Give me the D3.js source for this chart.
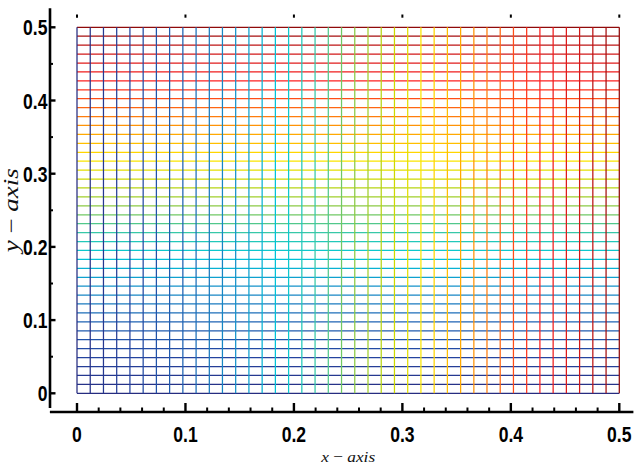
<!DOCTYPE html>
<html><head><meta charset="utf-8">
<script src="https://cdn.jsdelivr.net/npm/d3@7"></script>
<style>html,body{margin:0;padding:0;background:#fff;}svg{display:block;}</style>
</head><body>
<svg id="chart" width="638" height="465"></svg>
<script>
// grid node positions (42 lines each way)
const xNodes = [0, 0.0122, 0.0244, 0.0366, 0.0488, 0.0610, 0.0732, 0.0854, 0.0976, 0.1098,
  0.1220, 0.1341, 0.1463, 0.1585, 0.1707, 0.1829, 0.1951, 0.2073, 0.2195, 0.2317,
  0.2439, 0.2561, 0.2683, 0.2805, 0.2927, 0.3049, 0.3171, 0.3293, 0.3415, 0.3537,
  0.3659, 0.3780, 0.3902, 0.4024, 0.4146, 0.4268, 0.4390, 0.4512, 0.4634, 0.4756,
  0.4878, 0.5];
const yNodes = [0, 0.0122, 0.0244, 0.0366, 0.0488, 0.0610, 0.0732, 0.0854, 0.0976, 0.1098,
  0.1220, 0.1341, 0.1463, 0.1585, 0.1707, 0.1829, 0.1951, 0.2073, 0.2195, 0.2317,
  0.2439, 0.2561, 0.2683, 0.2805, 0.2927, 0.3049, 0.3171, 0.3293, 0.3415, 0.3537,
  0.3659, 0.3780, 0.3902, 0.4024, 0.4146, 0.4268, 0.4390, 0.4512, 0.4634, 0.4756,
  0.4878, 0.5];
const xMajorTicks = [0, 0.1, 0.2, 0.3, 0.4, 0.5];
const xTickLabels = ["0", "0.1", "0.2", "0.3", "0.4", "0.5"];
const xMinorTicks = [0.02,0.04,0.06,0.08,0.12,0.14,0.16,0.18,0.22,0.24,0.26,0.28,0.32,0.34,0.36,0.38,0.42,0.44,0.46,0.48];
const yMajorTicks = [0, 0.1, 0.2, 0.3, 0.4, 0.5];
const yTickLabels = ["0", "0.1", "0.2", "0.3", "0.4", "0.5"];
const yMinorTicks = [0.05, 0.15, 0.25, 0.35, 0.45];
const xTitle = ["x", " \u2212 ", "axis"];
const yTitle = ["y", " \u2212 ", "axis"];

const svg = d3.select("#chart");
const x = d3.scaleLinear().domain([0, 0.5]).range([77, 619.3]);
const y = d3.scaleLinear().domain([0, 0.5]).range([393.3, 27.3]);

const stops = [
  [0, "#262c80"], [0.1, "#2444a0"], [0.2, "#1e64b4"], [0.3, "#1496cc"],
  [0.375, "#00c8d8"], [0.45, "#40c8a0"], [0.5, "#80c850"], [0.58, "#c8d800"],
  [0.64, "#ffe600"], [0.7, "#ffb000"], [0.77, "#ff7010"], [0.85, "#ff2020"],
  [0.93, "#d01818"], [1, "#900a0a"]];
const cmap = d3.scaleLinear().domain(stops.map(d => d[0] * 0.5)).range(stops.map(d => d[1]))
  .interpolate(d3.interpolateRgb);

const grid = svg.append("g");
grid.selectAll("line.h").data(yNodes).join("line").attr("class", "h")
  .attr("x1", x(0)).attr("x2", x(0.5))
  .attr("y1", d => y(d)).attr("y2", d => y(d))
  .attr("stroke", d => cmap(d)).attr("stroke-width", 1.25);
grid.selectAll("line.v").data(xNodes).join("line").attr("class", "v")
  .attr("y1", y(0)).attr("y2", y(0.5))
  .attr("x1", d => x(d)).attr("x2", d => x(d))
  .attr("stroke", d => cmap(d)).attr("stroke-width", 1.25);

// axes (offset, MATLAB-like)
const axX = 50, axY = 412;
const ax = svg.append("g").attr("stroke", "#000").attr("stroke-width", 2.6);
ax.append("line").attr("x1", x(-0.025)).attr("x2", x(0.513)).attr("y1", axY).attr("y2", axY);
ax.append("line").attr("x1", axX).attr("x2", axX).attr("y1", y(-0.02)).attr("y2", y(0.526));
ax.selectAll("line.xM").data(xMajorTicks).join("line").attr("class", "xM")
  .attr("x1", d => x(d)).attr("x2", d => x(d)).attr("y1", axY).attr("y2", axY - 9).attr("stroke-width", 2.4);
ax.selectAll("line.xm").data(xMinorTicks).join("line").attr("class", "xm")
  .attr("x1", d => x(d)).attr("x2", d => x(d)).attr("y1", axY).attr("y2", axY - 4.5).attr("stroke-width", 2);
ax.selectAll("line.xT").data(xMajorTicks).join("line").attr("class", "xT")
  .attr("x1", d => x(d)).attr("x2", d => x(d)).attr("y1", 14.5).attr("y2", 17.7).attr("stroke-width", 2);
ax.selectAll("line.yM").data(yMajorTicks).join("line").attr("class", "yM")
  .attr("y1", d => y(d)).attr("y2", d => y(d)).attr("x1", axX).attr("x2", axX + 5.5).attr("stroke-width", 2.4);
ax.selectAll("line.ym").data(yMinorTicks).join("line").attr("class", "ym")
  .attr("y1", d => y(d)).attr("y2", d => y(d)).attr("x1", axX).attr("x2", axX + 3).attr("stroke-width", 2);

const lblFont = "'Liberation Sans', Arial, Helvetica, sans-serif";
svg.selectAll("text.xl").data(xMajorTicks).join("text").attr("class", "xl")
  .attr("transform", d => `translate(${x(d)},442) scale(0.78,1)`)
  .attr("text-anchor", "middle").attr("font-family", lblFont).attr("font-weight", "bold")
  .attr("font-size", 22.5).attr("fill", "#000").text((d, i) => xTickLabels[i]);
svg.selectAll("text.yl").data(yMajorTicks).join("text").attr("class", "yl")
  .attr("transform", d => `translate(47.5,${y(d) + 8}) scale(0.78,1)`)
  .attr("text-anchor", "end").attr("font-family", lblFont).attr("font-weight", "bold")
  .attr("font-size", 22.5).attr("fill", "#000").text((d, i) => yTickLabels[i]);

const titleFont = "'Liberation Serif', 'DejaVu Serif', serif";
const xt = svg.append("text").attr("x", x(0.25)).attr("y", 461.5)
  .attr("text-anchor", "middle").attr("font-family", titleFont).attr("font-size", 15.5)
  .attr("fill", "#111").attr("textLength", 54).attr("lengthAdjust", "spacingAndGlyphs");
xTitle.forEach((s, i) => xt.append("tspan").attr("font-style", i === 1 ? "normal" : "italic").text(s));
const yt = svg.append("text").attr("transform", `translate(18.3,${y(0.25)}) rotate(-90)`)
  .attr("text-anchor", "middle").attr("font-family", titleFont).attr("font-size", 21)
  .attr("fill", "#111").attr("textLength", 84).attr("lengthAdjust", "spacingAndGlyphs");
yTitle.forEach((s, i) => yt.append("tspan").attr("font-style", i === 1 ? "normal" : "italic").text(s));
</script>
</body></html>
